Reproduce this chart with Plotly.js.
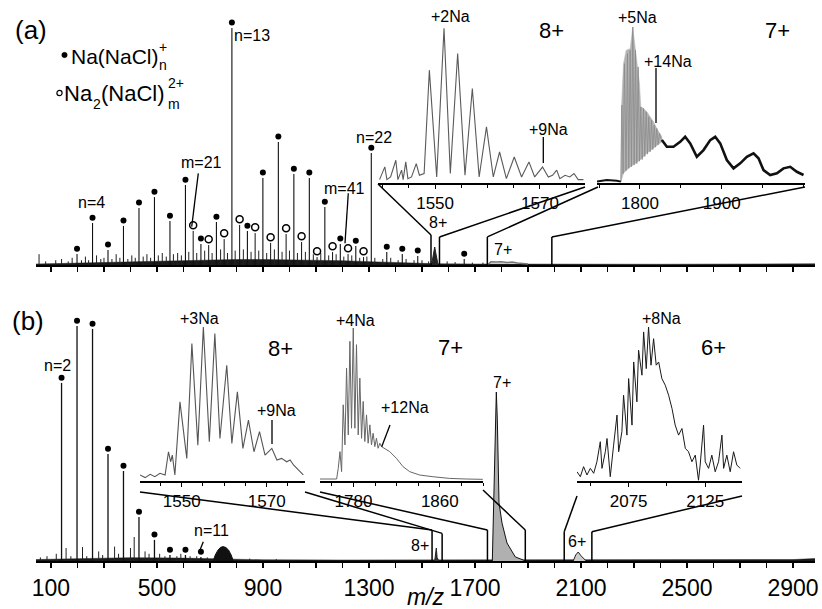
<!DOCTYPE html>
<html><head><meta charset="utf-8">
<script src="https://cdn.plot.ly/plotly-3.0.1.min.js"></script>
<style>html,body{margin:0;padding:0;background:#fff}#chart{width:822px;height:609px}</style>
</head><body><div id="chart"></div>
<script>
// ================= DATA =================
// Panel (a) main spectrum — Na(NaCl)n+ (filled dots)
const aNaClMz  = [198.3, 256.8, 315.2, 373.6, 432.1, 490.5, 549.0, 607.4, 665.8, 724.3, 782.7, 841.2, 899.6, 958.0, 1016.5, 1074.9, 1133.4, 1191.8, 1250.2, 1308.7, 1367.1, 1425.6, 1484.0, 1659.3];
const aNaClInt = [4.6, 17.5, 6.3, 16.3, 23.8, 28.3, 18.3, 33.3, 8.8, 17.9, 98.8, 14.2, 36.3, 51.3, 37.9, 36.3, 24.2, 8.8, 7.9, 46.7, 5.4, 4.6, 3.8, 2.5];
// Na2(NaCl)m 2+ (open circles)
const aDiMz  = [636.6, 695.1, 753.5, 811.9, 870.4, 928.8, 987.3, 1045.7, 1104.1, 1162.6, 1221.0, 1279.5];
const aDiInt = [14.2, 8.3, 10.8, 16.7, 13.3, 9.2, 12.9, 9.6, 3.3, 5.4, 4.6, 3.3];
// unlabelled small peaks
const aMinorMz  = [55, 80, 118, 140, 165, 180, 215, 230, 242, 272, 288, 300, 330, 346, 360, 390, 405, 418, 448, 462, 476, 505, 520, 535, 562, 578, 592, 620, 650, 680, 708, 740, 766, 795, 826, 855, 884, 914, 943, 972, 1000, 1030, 1060, 1090, 1118, 1148, 1176, 1205, 1235, 1265, 1292, 1322, 1352, 1382, 1410, 1440, 1470, 1500, 1525, 1595, 1625, 1690, 1730];
const aMinorInt = [4.5, 1.5, 2, 2.5, 1.5, 3, 2, 3.5, 2, 4, 2.5, 3, 2.5, 4.5, 3, 2.5, 4, 3, 3.5, 4.5, 3, 4, 5, 3.5, 4.5, 5, 4, 5.5, 5, 6, 5, 6.5, 5, 6, 6.5, 5.5, 6, 5, 6.5, 5.5, 6, 5, 5.5, 4.5, 5, 4, 4.5, 3.5, 4, 3, 3.5, 3, 2.5, 3, 2, 2.5, 2, 2, 1.5, 1.5, 1.2, 1, 1];
// dense background band
const aGrassMz  = [43, 150, 300, 420, 520, 600, 700, 800, 900, 1000, 1100, 1200, 1300, 1400, 1500, 1560, 1700, 2000, 2400, 2983];
const aGrassInt = [0.4, 0.7, 1.0, 1.3, 1.6, 1.9, 2.1, 2.3, 2.3, 2.2, 2.0, 1.8, 1.4, 1.0, 0.7, 0.5, 0.4, 0.3, 0.3, 0.5];
// 8+ and 7+ protein signals in the main trace (a)
const a8Mz  = [1536, 1540, 1544, 1548, 1552, 1556, 1560];
const a8Int = [0, 3, 6, 7.5, 5, 2, 0.5];
const a7Mz  = [1750, 1760, 1780, 1800, 1820, 1840, 1860, 1880, 1900];
const a7Int = [0.3, 1.3, 1.2, 1.4, 1.0, 1.2, 0.8, 0.6, 0.4];

// Inset a1 (8+)
const a1Mz  = [1539.4, 1540.4, 1540.8, 1541.5, 1542.5, 1542.9, 1543.6, 1543.9, 1544.4, 1544.8, 1545.5, 1546.4, 1547.0, 1547.9, 1548.9, 1550.3, 1551.7, 1552.9, 1554.3, 1555.7, 1557.1, 1558.4, 1559.8, 1561.1, 1562.3, 1563.6, 1565.1, 1566.5, 1567.9, 1569.0, 1570.5, 1571.6, 1572.4, 1573.2, 1573.8, 1574.8, 1575.7, 1576.5, 1577.3, 1578.3];
const a1Int = [2.2, 10.4, 2.2, 3.9, 14.7, 2.2, 8.3, 2.2, 13.6, 2.8, 3.9, 12.5, 5.0, 6.1, 72.8, 3.9, 99.8, 6.1, 83.6, 5.0, 61.0, 3.9, 36.2, 3.9, 20.0, 2.8, 16.8, 3.9, 13.6, 3.9, 10.3, 3.9, 5.0, 8.3, 2.8, 5.0, 3.9, 6.1, 2.2, 2.2];
// Inset a2 (7+): grey band envelope, comb profile, baseline and hump
const a2TopMz  = [1776.6, 1777.4, 1779.8, 1783.1, 1788.0, 1790.4, 1791.2, 1792.1, 1794.1, 1797.0, 1799.4, 1801.0, 1804.3, 1808.4, 1812.5, 1816.6, 1820.6, 1824.7, 1826.8];
const a2TopInt = [0.9, 48.8, 76.5, 85.1, 86.1, 95.7, 100, 95.7, 86.1, 76.5, 63.8, 48.8, 47.8, 45.6, 42.4, 39.2, 34.9, 31.8, 29.6];
const a2BotMz  = [1776.6, 1779.8, 1786.0, 1792.1, 1800.2, 1808.4, 1816.6, 1826.8];
const a2BotInt = [0.9, 6.2, 9.4, 11.5, 14.7, 19.0, 22.2, 26.4];
const a2CombMz  = [1776.6, 1777.8, 1779.4, 1781.0, 1782.9, 1784.7, 1786.3, 1788.0, 1789.6, 1791.2, 1792.9, 1794.5, 1796.1, 1797.8, 1799.4, 1801.0, 1802.7, 1804.3, 1805.9, 1807.6, 1809.2, 1810.8, 1812.5, 1814.1, 1815.7, 1817.4, 1819.0, 1820.6, 1822.3, 1823.9, 1826.8];
const a2CombInt = [0.9, 49.9, 6, 76.5, 8, 82.9, 9.4, 85.1, 10.5, 100, 11.5, 85.1, 12.5, 74.4, 14, 48.8, 15, 47.8, 17, 45.6, 18.5, 42.4, 20, 40.3, 21.5, 37.1, 23, 35, 24.5, 31.8, 26.4];
const a2BaseMz  = [1747.4, 1759.4, 1771.7, 1776.6];
const a2BaseInt = [0.9, 1.9, 1.5, 0.9];
const a2HumpMz  = [1826.8, 1832.9, 1841.0, 1849.2, 1855.3, 1861.5, 1869.6, 1877.8, 1886.0, 1892.1, 1898.2, 1906.3, 1914.5, 1922.7, 1930.8, 1939.0, 1945.1, 1951.2, 1959.4, 1967.6, 1975.7, 1983.9, 1992.0, 2000.2];
const a2HumpInt = [27.5, 23.2, 23.2, 26.4, 29.6, 25.4, 16.8, 21.1, 27.5, 29.6, 25.4, 14.7, 9.4, 12.6, 16.8, 19.0, 15.8, 8.3, 5.1, 6.2, 9.4, 10.4, 7.2, 5.1];

// Panel (b) main spectrum
const bNaClMz  = [139.9, 198.3, 256.8, 315.2, 373.6, 432.1, 490.5, 549.0, 607.4, 665.8];
const bNaClInt = [74.2, 97.9, 96.7, 44.6, 37.5, 18.3, 8.8, 2.5, 2.5, 1.7];
const bMinorMz  = [60, 85, 120, 157, 175, 219, 235, 280, 295, 340, 355, 400, 414, 455, 470, 510, 530, 575, 590, 625, 650, 690, 720, 850, 950];
const bMinorInt = [1.5, 2, 3, 5.4, 2, 5.8, 2, 4, 2.5, 6, 3, 5.4, 10, 4, 3, 3, 2, 2, 3, 2, 2, 1.5, 1.5, 1, 0.8];
const bGrassMz  = [43, 200, 400, 600, 700, 900, 1200, 1500, 1700, 2000, 2500, 2900, 2983];
const bGrassInt = [0.6, 1.0, 1.4, 1.2, 0.9, 0.5, 0.4, 0.4, 0.3, 0.3, 0.4, 0.6, 1.0];
const bBlobMz  = [712, 720, 730, 740, 750, 760, 770, 780, 788];
const bBlobInt = [0, 2.5, 4.5, 5.7, 6, 5.6, 4.6, 2.5, 0];
const b8Mz  = [1548, 1551, 1554, 1557, 1562];
const b8Int = [0, 2, 5.4, 1.5, 0.3];
const b7Mz  = [1765.4, 1774.9, 1780.5, 1784.3, 1790.7, 1802.0, 1820.8, 1852.0, 1882.2];
const b7Int = [0, 37.9, 70.4, 58.8, 24.2, 15.8, 7.5, 1.7, 0.4];
const b6Mz  = [2070.6, 2080, 2089.5, 2100, 2115.9];
const b6Int = [0, 2.5, 3.75, 2.2, 0.4];

// Inset b1 (8+)
const b1Mz  = [1540.2, 1541.4, 1542.6, 1543.7, 1544.9, 1546.1, 1546.9, 1547.4, 1547.8, 1548.4, 1549.6, 1551.2, 1552.4, 1553.8, 1555.1, 1556.5, 1557.8, 1559.0, 1560.6, 1561.8, 1563.1, 1564.4, 1565.7, 1567.0, 1568.3, 1569.6, 1571.2, 1572.4, 1573.5, 1574.7, 1575.5, 1576.3, 1577.5, 1578.6];
const b1Int = [3.9, 2.2, 4.3, 2.8, 5.0, 3.9, 19.0, 12.5, 16.8, 3.9, 51.4, 14.7, 89.2, 23.3, 100, 25.5, 95.7, 27.6, 75.2, 24.4, 57.9, 21.2, 39.5, 19.0, 32.0, 16.8, 21.2, 13.6, 14.7, 12.5, 13.6, 10.4, 7.1, 3.9];
// Inset b2 (7+)
const b2Mz  = [1749.0, 1764.4, 1765.9, 1767.5, 1769.0, 1770.5, 1772.1, 1773.6, 1775.2, 1776.7, 1778.2, 1779.8, 1781.3, 1782.8, 1784.4, 1785.9, 1787.5, 1789.0, 1790.5, 1792.1, 1793.6, 1795.2, 1796.7, 1798.2, 1799.8, 1801.3, 1802.8, 1804.4, 1805.9, 1813.6, 1819.8, 1825.9, 1832.1, 1841.3, 1853.6, 1869.0, 1884.4, 1899.8];
const b2Int = [1.3, 1.3, 8.3, 19.2, 6.1, 49.8, 23.6, 73.8, 30.1, 91.3, 34.5, 100, 34.5, 89.1, 30.1, 67.2, 27.9, 52.0, 25.8, 43.2, 24.7, 36.7, 23.6, 31.2, 22.5, 27.9, 21.4, 24.7, 22.5, 19.2, 14.8, 9.4, 6.1, 3.9, 2.8, 1.7, 1.3, 1.1];
// Inset b3 (6+)
const b3Mz  = [2041.3, 2043.5, 2045.6, 2047.8, 2050.0, 2052.2, 2054.3, 2056.5, 2057.6, 2059.8, 2060.9, 2063.0, 2065.2, 2067.4, 2068.5, 2070.6, 2071.7, 2073.9, 2075.0, 2077.2, 2078.3, 2080.4, 2081.5, 2083.7, 2084.8, 2086.5, 2088.0, 2089.6, 2091.3, 2093.0, 2094.6, 2096.7, 2098.9, 2101.1, 2103.3, 2105.4, 2107.6, 2109.8, 2112.0, 2114.1, 2116.3, 2118.5, 2120.6, 2121.7, 2123.9, 2125.0, 2127.2, 2129.3, 2131.5, 2133.7, 2135.9, 2137.0, 2139.1, 2141.3, 2143.5, 2145.6, 2147.8];
const b3Int = [6.0, 2.8, 9.3, 3.9, 8.2, 5.0, 12.5, 25.5, 8.2, 19.0, 27.6, 2.8, 23.3, 42.8, 19.0, 32.0, 55.7, 29.8, 66.5, 36.3, 77.3, 51.4, 84.9, 68.7, 96.8, 73.0, 100, 75.2, 92.4, 75.2, 77.3, 66.5, 62.2, 55.7, 47.1, 36.3, 29.8, 34.1, 21.2, 19.0, 12.5, 16.8, 0.5, 10.4, 36.3, 12.5, 8.2, 16.8, 6.0, 12.5, 29.8, 8.2, 16.8, 6.0, 19.0, 10.4, 8.2];

// tick labels
const mainTickVals = [100, 500, 900, 1300, 1700, 2100, 2500, 2900];
const mainTickText = ['100', '500', '900', '1300', '1700', '2100', '2500', '2900'];
const a1Ticks = [1550, 1570], a2Ticks = [1800, 1900];
const b1Ticks = [1550, 1570], b2Ticks = [1780, 1860], b3Ticks = [2075, 2125];

// ================= LAYOUT GEOMETRY =================
const W = 822, H = 609;
const fx = p => p / W, fy = p => 1 - p / H;
const FONT = 'Liberation Sans, Arial, sans-serif';
// x: pixel extent, y: [pixel of 0, pixel of yTop], r: x range, yTop: top of y range
const geo = {
  a:  {xa:'x',  ya:'y',  x:[36,815],  y:[265,13],  yTop:105, r:[43.5,2983]},
  b:  {xa:'x2', ya:'y2', x:[36,815],  y:[561,309], yTop:105, r:[43.5,2983]},
  a1: {xa:'x3', ya:'y3', x:[378,585], y:[183,28],  yTop:100, r:[1539.1,1578.6]},
  a2: {xa:'x4', ya:'y4', x:[597,805], y:[183,27],  yTop:100, r:[1747.4,2002]},
  b1: {xa:'x5', ya:'y5', x:[140,305], y:[481,327], yTop:100, r:[1540.2,1579]},
  b2: {xa:'x6', ya:'y6', x:[320,483], y:[481,328], yTop:100, r:[1749,1900]},
  b3: {xa:'x7', ya:'y7', x:[577,742], y:[481,327], yTop:100, r:[2041.3,2149]}
};
function toPx(g, x, y) {
  const G = geo[g];
  return [G.x[0] + (x - G.r[0]) / (G.r[1] - G.r[0]) * (G.x[1] - G.x[0]),
          G.y[0] + y / G.yTop * (G.y[1] - G.y[0])];
}
function sticks(mz, inten) {
  const x = [], y = [];
  mz.forEach((m, i) => { x.push(m, m, null); y.push(0, inten[i], null); });
  return {x, y};
}
const on = g => ({xaxis: geo[g].xa, yaxis: geo[g].ya});

// ================= TRACES =================
const traces = [];
const add = (g, t) => traces.push(Object.assign({type:'scatter', mode:'lines', hoverinfo:'skip', showlegend:false}, on(g), t));

// ---- panel (a)
add('a', {x:aGrassMz, y:aGrassInt, fill:'tozeroy', fillcolor:'#1a1a1a', line:{color:'#1a1a1a', width:0.5}});
let s = sticks(aMinorMz, aMinorInt); add('a', {x:s.x, y:s.y, line:{color:'#222', width:1}});
s = sticks(aDiMz, aDiInt);           add('a', {x:s.x, y:s.y, line:{color:'#111', width:1}});
s = sticks(aNaClMz, aNaClInt);       add('a', {x:s.x, y:s.y, line:{color:'#111', width:1.1}});
add('a', {x:a8Mz, y:a8Int, fill:'tozeroy', fillcolor:'#222', line:{color:'#222', width:1}});
add('a', {x:a7Mz, y:a7Int, line:{color:'#777', width:1.5}});
add('a', {x:aNaClMz, y:aNaClInt.map(v => v + 2.2), mode:'markers', cliponaxis:false,
          marker:{symbol:'circle', size:6, color:'#000'}});
add('a', {x:aDiMz, y:aDiInt.map(v => v + 2.4), mode:'markers', cliponaxis:false,
          marker:{symbol:'circle', size:7, color:'#fff', line:{color:'#000', width:1.5}}});
// inset a1
add('a1', {x:a1Mz, y:a1Int, line:{color:'#5a5a5a', width:1.1}});
// inset a2
add('a2', {x:a2TopMz.concat(a2BotMz.slice().reverse()), y:a2TopInt.concat(a2BotInt.slice().reverse()),
           fill:'toself', fillcolor:'#b4b4b4', line:{color:'#b4b4b4', width:0.5}});
add('a2', {x:a2CombMz, y:a2CombInt, line:{color:'#8a8a8a', width:0.8}});
add('a2', {x:a2BaseMz, y:a2BaseInt, line:{color:'#111', width:2}});
add('a2', {x:a2HumpMz, y:a2HumpInt, line:{color:'#111', width:2.6}});

// ---- panel (b)
add('b', {x:bGrassMz, y:bGrassInt, fill:'tozeroy', fillcolor:'#1a1a1a', line:{color:'#1a1a1a', width:0.5}});
s = sticks(bMinorMz, bMinorInt); add('b', {x:s.x, y:s.y, line:{color:'#222', width:1}});
s = sticks(bNaClMz, bNaClInt);   add('b', {x:s.x, y:s.y, line:{color:'#111', width:1.3}});
add('b', {x:bBlobMz, y:bBlobInt, fill:'tozeroy', fillcolor:'#111', line:{color:'#111', width:1}});
add('b', {x:b8Mz, y:b8Int, fill:'tozeroy', fillcolor:'#333', line:{color:'#222', width:1}});
add('b', {x:b7Mz, y:b7Int, fill:'tozeroy', fillcolor:'#b0b0b0', line:{color:'#111', width:1}});
add('b', {x:b6Mz, y:b6Int, fill:'tozeroy', fillcolor:'#ccc', line:{color:'#222', width:1}});
add('b', {x:bNaClMz, y:bNaClInt.map(v => v + 2.2), mode:'markers', cliponaxis:false,
          marker:{symbol:'circle', size:6, color:'#000'}});
add('b1', {x:b1Mz, y:b1Int, line:{color:'#555', width:1.1}});
add('b2', {x:b2Mz, y:b2Int, line:{color:'#666', width:1}});
add('b3', {x:b3Mz, y:b3Int, line:{color:'#1a1a1a', width:1}});

// ================= AXES =================
const layout = {
  width: W, height: H, margin:{l:0, r:0, t:0, b:0},
  paper_bgcolor:'#fff', plot_bgcolor:'rgba(0,0,0,0)',
  font:{family:FONT, color:'#000'}, showlegend:false
};
function axes(g, key, xExtra) {
  const G = geo[g];
  const xn = 'xaxis' + key, yn = 'yaxis' + key;
  layout[xn] = Object.assign({domain:[fx(G.x[0]), fx(G.x[1])], range:G.r, anchor:G.ya,
      showgrid:false, zeroline:false, showline:true, linecolor:'#000', fixedrange:true,
      ticks:'outside', tickcolor:'#000'}, xExtra);
  layout[yn] = {domain:[fy(G.y[0]), fy(G.y[1])], range:[0, G.yTop], anchor:G.xa, visible:false, fixedrange:true};
}
axes('a', '', {linewidth:2, ticklen:5, tickwidth:1.5, tick0:100, dtick:100, showticklabels:false});
axes('b', '2', {linewidth:2, ticklen:5, tickwidth:1.5, tickmode:'array', tickvals:mainTickVals, ticktext:mainTickText,
  tickfont:{size:23}, minor:{tick0:100, dtick:100, ticks:'outside', ticklen:5, tickwidth:1.5, tickcolor:'#000'}});
const inset = (vals, md) => ({linewidth:1.5, ticklen:4, tickwidth:1, tickmode:'array', tickvals:vals,
  ticktext:vals.map(String), tickfont:{size:17},
  minor:{tick0:vals[0], dtick:md, ticks:'outside', ticklen:3, tickwidth:1, tickcolor:'#000'}});
axes('a1', '3', inset(a1Ticks, 5));
axes('a2', '4', inset(a2Ticks, 50));
axes('b1', '5', inset(b1Ticks, 5));
axes('b2', '6', inset(b2Ticks, 20));
axes('b3', '7', inset(b3Ticks, 25));

// ================= ZOOM BOXES & CONNECTORS =================
const shapes = [];
const pline = (x0, y0, x1, y1, w) => shapes.push({type:'line', xref:'paper', yref:'paper',
  x0:fx(x0), y0:fy(y0), x1:fx(x1), y1:fy(y1), line:{color:'#000', width:w || 1.5}});
const boxes = [
  {p:'a', lo:1534,   hi:1566,   top:[12.5, 11.7], cl:[378,184], cr:[585,187]},
  {p:'a', lo:1746.6, hi:1990,   top:[11.7, 11.7], cl:[598,187], cr:[805,187]},
  {p:'b', lo:1538,   hi:1576,   top:[12.9, 11.5], cl:[140,492], cr:[305,492]},
  {p:'b', lo:1747,   hi:1889.8, top:[12.9, 12.9], cl:[320,492], cr:[483,490]},
  {p:'b', lo:2036.7, hi:2141,   top:[12.2, 12.2], cl:[577,496], cr:[742,496]}
];
boxes.forEach(B => {
  const l0 = toPx(B.p, B.lo, 0), l1 = toPx(B.p, B.lo, B.top[0]);
  const r0 = toPx(B.p, B.hi, 0), r1 = toPx(B.p, B.hi, B.top[1]);
  pline(l0[0], l0[1], l1[0], l1[1]); pline(r0[0], r0[1], r1[0], r1[1]);
  pline(l1[0], l1[1], B.cl[0], B.cl[1]); pline(r1[0], r1[1], B.cr[0], B.cr[1]);
});
// label pointer lines
[[198.3,173.3,191.7,226.7],[348.3,193.3,345,243.3],[543.3,137,543.3,163],[656,68,656,123],
 [203.3,541.7,200,550],[272,420,272,444],[390,425,381.7,446.7]].forEach(a => pline(a[0],a[1],a[2],a[3],1.3));
// legend symbols (filled dot, open circle)
const circ = (cx, cy, r, fill, lw) => shapes.push({type:'circle', xref:'paper', yref:'paper',
  x0:fx(cx - r), x1:fx(cx + r), y0:fy(cy + r), y1:fy(cy - r), fillcolor:fill, line:{color:'#000', width:lw}});
circ(64.5, 55, 2.7, '#000', 0.5);
circ(59.5, 93, 2.6, '#fff', 1.2);
layout.shapes = shapes;

// ================= TEXT =================
const ann = [];
const T = (text, x, y, size, anchor, extra) => ann.push(Object.assign({text, x:fx(x), y:fy(y), xref:'paper', yref:'paper',
  showarrow:false, xanchor:anchor || 'center', yanchor:'middle', font:{size, family:FONT, color:'#000'}}, extra || {}));
T('(a)', 31, 30, 26);
// legend: stacked sub/superscripts placed as separate texts
T('Na(NaCl)', 69, 56, 21, 'left');
T('+', 157, 47, 14, 'left');
T('n', 157, 65, 14, 'left');
T('Na', 62, 93, 22, 'left');
T('2', 90.5, 104, 14, 'left');
T('(NaCl)', 99, 93, 22, 'left');
T('2+', 166, 83, 14, 'left');
T('m', 166, 104, 14, 'left');
T('n=13', 252, 35, 16); T('n=4', 91, 203, 16); T('m=21', 201, 162, 16);
T('n=22', 374, 137, 16); T('m=41', 344, 188, 16);
T('8+', 438, 222, 16); T('7+', 503, 249, 16);
T('+2Na', 450, 17, 16); T('8+', 551, 30, 22); T('+9Na', 548, 130, 16);
T('+5Na', 637, 18, 16); T('+14Na', 668, 62, 16); T('7+', 777, 30, 22);
T('(b)', 28, 321, 26);
T('n=2', 57, 365, 16); T('n=11', 211, 530, 16);
T('+3Na', 199, 318, 16); T('8+', 280, 348, 22); T('+9Na', 276, 411, 16);
T('+4Na', 355, 320, 16); T('7+', 450, 347, 22); T('+12Na', 405, 407, 16);
T('7+', 502, 382, 16); T('8+', 420, 545, 16); T('6+', 577, 541, 16);
T('+8Na', 661, 318, 16); T('6+', 713, 347, 22);
T('m/z', 426, 597, 23, 'center', {font:{size:23, family:FONT, color:'#000', style:'italic'}});
layout.annotations = ann;

Plotly.newPlot('chart', traces, layout, {staticPlot:true, displayModeBar:false});
</script>
</body></html>
